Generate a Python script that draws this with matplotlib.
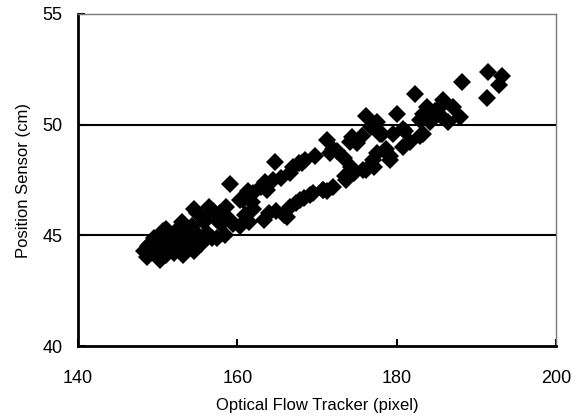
import matplotlib
matplotlib.use("Agg")
import matplotlib.pyplot as plt

plt.rcParams['font.family'] = ['Liberation Sans', 'DejaVu Sans']

# Optical flow tracker (pixel) vs position sensor (cm)
tracker = [
    148.6, 148.3, 149.0, 149.5, 150.0, 150.3, 150.7, 150.5, 151.0, 151.3,
    151.6, 152.0, 152.2, 152.5, 152.8, 153.2, 153.6, 153.4, 154.0, 154.3,
    154.5, 154.9, 155.0, 155.5, 155.8, 156.2, 156.4, 156.8, 157.0, 157.4,
    157.8, 158.0, 158.4, 154.5, 153.0, 151.0, 149.5, 148.8, 150.2, 152.4,
    159.1, 160.3, 161.4, 162.0, 163.0, 163.7, 164.5, 164.7, 165.5, 166.6,
    167.0, 167.7, 168.1, 168.5, 160.7, 156.0, 157.5, 158.6, 161.8, 163.5,
    159.1, 159.5, 160.3, 161.0, 162.0, 163.3, 164.0, 164.9, 165.8, 166.2,
    166.6, 167.4, 167.9, 169.1, 169.5, 170.8, 171.2, 173.7, 174.6, 176.2,
    177.0, 177.1, 175.8, 174.3, 173.5, 161.5, 168.4,
    171.2, 171.6, 172.0, 172.5, 173.4, 174.1, 174.4, 175.0, 175.6, 176.2,
    177.5, 177.5, 177.9, 178.1, 179.2, 179.2, 179.5, 180.0, 180.8, 180.8,
    181.0, 181.7, 182.3, 182.9, 182.9, 183.3, 183.3, 183.8, 184.2, 185.4,
    185.6, 185.8, 187.1, 187.9, 188.2, 191.4, 191.5, 192.8, 193.2, 170.8,
    172.0, 178.6, 186.5, 169.8, 176.8, 184.8,
]
sensor = [
    44.0, 44.3, 44.6, 44.2, 44.4, 43.9, 45.2, 44.8, 44.1, 44.6,
    45.0, 44.2, 44.9, 45.3, 44.5, 44.1, 44.5, 45.1, 44.8, 45.4,
    44.3, 46.0, 45.0, 44.6, 45.6, 45.1, 46.3, 44.9, 46.1, 44.9,
    46.0, 45.5, 45.0, 46.2, 45.6, 45.3, 44.9, 44.5, 44.7, 44.4,
    47.3, 46.6, 47.0, 46.9, 47.2, 47.05, 47.5, 48.3, 47.6, 47.8,
    48.1, 48.25, 48.25, 48.4, 46.6, 45.8, 45.7, 46.3, 46.5, 47.4,
    45.7, 45.5, 45.4, 45.9, 46.2, 45.7, 46.0, 46.1, 45.9, 45.85,
    46.3, 46.45, 46.6, 46.8, 46.9, 47.05, 47.0, 47.5, 47.8, 47.95,
    48.4, 48.1, 47.95, 48.1, 47.7, 45.6, 46.7,
    49.3, 48.7, 48.9, 48.8, 48.5, 49.2, 49.45, 49.15, 49.5, 50.4,
    50.1, 48.7, 49.6, 49.6, 48.6, 48.4, 49.6, 50.5, 49.8, 49.0,
    49.7, 49.2, 51.4, 50.2, 49.5, 50.5, 49.6, 50.8, 50.1, 50.8,
    50.4, 51.1, 50.8, 50.35, 51.95, 51.2, 52.4, 51.8, 52.2, 47.05,
    47.2, 48.9, 50.1, 48.6, 49.9, 50.6,
]

fig = plt.figure(figsize=(5.83, 4.19), dpi=100)
ax = fig.add_axes([0.1338, 0.1742, 0.8199, 0.7924])

for y in [45, 50]:
    ax.axhline(y, color='black', linewidth=1.5, zorder=1)

ax.plot(tracker, sensor, linestyle='none', marker='D', markersize=9.5,
        color='black', markeredgewidth=0, zorder=3)

ax.set_xlim(140, 200)
ax.set_ylim(40, 55)
ax.set_xticks([140, 160, 180, 200])
ax.set_yticks([40, 45, 50, 55])
ax.tick_params(direction='in', length=5, width=1.5, labelsize=13)
ax.tick_params(axis='x', pad=17)
ax.tick_params(axis='y', pad=11)

for side in ['left', 'bottom']:
    ax.spines[side].set_linewidth(2)
for side in ['top', 'right']:
    ax.spines[side].set_color('#777777')
    ax.spines[side].set_linewidth(1)
    ax.spines[side].set_linestyle((0, (1, 1)))

ax.set_xlabel('Optical Flow Tracker (pixel)', fontsize=12, labelpad=8)
ax.set_ylabel('Position Sensor (cm)', fontsize=12, labelpad=8)

fig.savefig('out.png', dpi=100)
